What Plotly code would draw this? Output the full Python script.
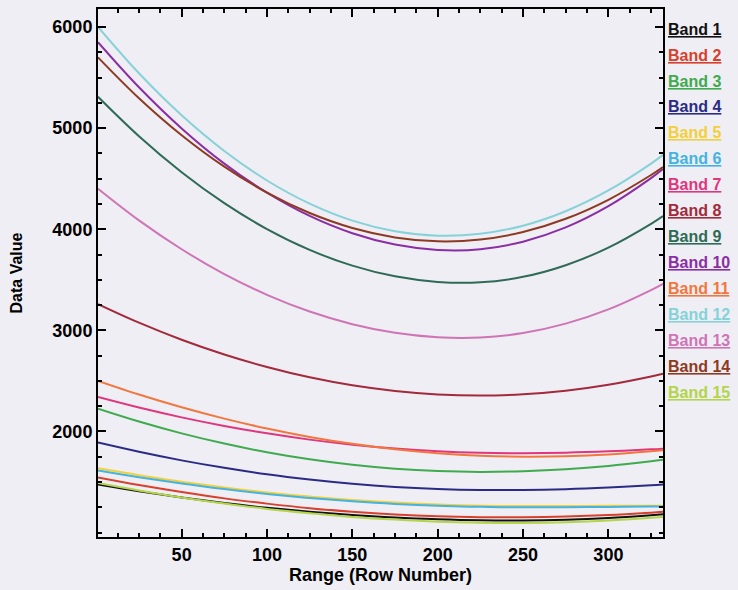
import plotly.graph_objects as go

rows = [1, 25, 50, 75, 100, 125, 150, 175, 200, 225, 250, 275, 300, 325, 332]

band_1 = [1475, 1409, 1347, 1292, 1245, 1206, 1174, 1149, 1132, 1122, 1120, 1127, 1144, 1171, 1180]
band_2 = [1545, 1470, 1400, 1338, 1286, 1241, 1206, 1179, 1161, 1152, 1151, 1158, 1173, 1197, 1205]
band_3 = [2225, 2098, 1981, 1880, 1794, 1724, 1670, 1631, 1608, 1600, 1607, 1626, 1659, 1705, 1720]
band_4 = [1890, 1799, 1714, 1640, 1576, 1524, 1482, 1451, 1431, 1421, 1421, 1429, 1445, 1467, 1475]
band_5 = [1635, 1567, 1503, 1446, 1397, 1356, 1322, 1296, 1277, 1266, 1262, 1263, 1264, 1265, 1265]
band_6 = [1615, 1548, 1485, 1430, 1382, 1342, 1309, 1283, 1265, 1254, 1250, 1251, 1253, 1257, 1258]
band_7 = [2340, 2236, 2139, 2054, 1981, 1919, 1869, 1831, 1804, 1789, 1785, 1790, 1803, 1823, 1830]
band_8 = [3260, 3076, 2907, 2761, 2637, 2535, 2456, 2400, 2366, 2355, 2367, 2402, 2461, 2543, 2570]
band_9 = [5310, 4920, 4564, 4258, 4001, 3795, 3640, 3534, 3479, 3475, 3529, 3644, 3818, 4053, 4130]
band_10 = [5850, 5404, 4997, 4649, 4361, 4131, 3960, 3848, 3795, 3802, 3877, 4018, 4228, 4505, 4595]
band_11 = [2500, 2365, 2239, 2127, 2029, 1946, 1878, 1824, 1785, 1760, 1750, 1754, 1772, 1804, 1815]
band_12 = [6000, 5542, 5127, 4774, 4482, 4253, 4085, 3980, 3936, 3955, 4035, 4178, 4383, 4649, 4735]
band_13 = [4400, 4087, 3802, 3556, 3351, 3186, 3061, 2976, 2932, 2929, 2973, 3066, 3207, 3398, 3460]
band_14 = [5700, 5296, 4930, 4619, 4362, 4160, 4012, 3919, 3880, 3898, 3972, 4103, 4291, 4536, 4615]
band_15 = [1490, 1416, 1347, 1287, 1234, 1191, 1155, 1128, 1108, 1098, 1095, 1102, 1119, 1146, 1155]

bands = [band_1, band_2, band_3, band_4, band_5, band_6, band_7, band_8,
         band_9, band_10, band_11, band_12, band_13, band_14, band_15]
names = ["Band %d" % i for i in range(1, 16)]
colors = ["#111111", "#d8402c", "#3faa4e", "#2b2b86", "#f2d03a", "#45b3e0", "#e0367e", "#a32a3c",
          "#2f6a56", "#8b2ea3", "#f2773f", "#86d2d8", "#cf74b4", "#8e3a22", "#b4d44a"]

y_ticks = [2000, 3000, 4000, 5000, 6000]
bg = "#eeeef4"

fig = go.Figure()
for name, vals, col in zip(names, bands, colors):
    fig.add_trace(go.Scatter(x=rows, y=vals, name=name, mode="lines",
                             line=dict(color=col, width=2, shape="spline"),
                             showlegend=False))

# legend drawn as coloured, underlined labels to the right of the frame
for i, (name, col) in enumerate(zip(names, colors)):
    fig.add_annotation(xref="paper", yref="paper", x=1.006, y=0.962 - i * 0.0492,
                       xanchor="left", yanchor="middle", showarrow=False,
                       text="<u><b>%s</b></u>" % name,
                       font=dict(family="Liberation Sans", size=16, color=col))

axis_common = dict(showline=True, linecolor="black", linewidth=2, mirror="ticks",
                   ticks="inside", ticklen=8, tickwidth=2, tickcolor="black",
                   showgrid=False, zeroline=False,
                   tickfont=dict(family="Liberation Sans", size=18, color="black", weight="bold"))

fig.update_xaxes(range=[1, 332], dtick=50, tick0=0,
                 minor=dict(dtick=12.5, tick0=0, ticks="inside", ticklen=4, tickcolor="black", tickwidth=2),
                 title=dict(text="Range (Row Number)", standoff=2,
                            font=dict(family="Liberation Sans", size=18, color="black", weight="bold")),
                 **axis_common)
fig.update_yaxes(range=[956, 6178], tickmode="array", tickvals=y_ticks,
                 minor=dict(dtick=250, tick0=0, ticks="inside", ticklen=4, tickcolor="black", tickwidth=2),
                 title=dict(text="Data Value", standoff=26,
                            font=dict(family="Liberation Sans", size=16, color="black", weight="bold")),
                 **axis_common)

fig.update_layout(width=738, height=590,
                  margin=dict(l=98, r=75, t=7, b=53),
                  paper_bgcolor=bg, plot_bgcolor=bg)

fig.write_html("out.html", config={"displayModeBar": False},
               post_script="document.body.style.margin='0';document.body.style.background='%s';" % bg)
